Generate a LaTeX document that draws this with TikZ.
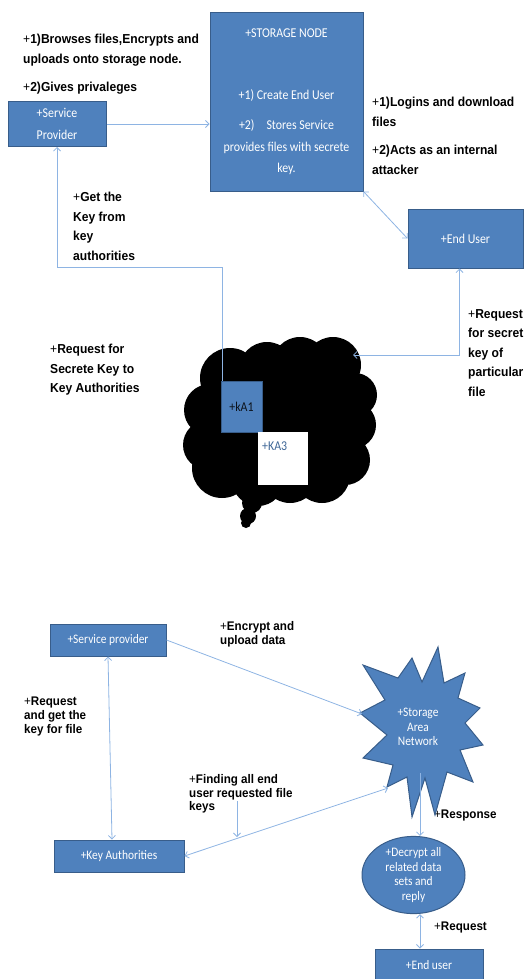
\documentclass[tikz,border=0pt]{standalone}
\usepackage{fontspec}
\setmainfont[FakeStretch=0.93]{Liberation Sans}
\newfontfamily\boxfont[FakeStretch=0.88]{Carlito}
\usetikzlibrary{shapes.geometric,arrows.meta}
\definecolor{boxblue}{HTML}{4F81BD}
\definecolor{boxedge}{HTML}{385D8A}
\definecolor{linkblue}{HTML}{8EB4E3}
\tikzstyle{entity}=[
        draw=boxedge,
        fill=boxblue,
        line width=1pt,
        text=white,
        align=center
]
\tikzstyle{link}=[
        draw=linkblue,
        line width=0.8pt,
        >={Straight Barb[length=3.5pt,width=7pt]}
]
\tikzstyle{note}=[
        anchor=north west,
        inner sep=0pt,
        align=left
]
\newcommand{\pls}{\textmd{+}}
\newcommand{\bigbox}{\boxfont\fontsize{13.5}{21.5}\selectfont}
\newcommand{\smallbox}{\boxfont\fontsize{13}{14.5}\selectfont}
\newcommand{\bignote}{\bfseries\fontsize{13}{19.5}\selectfont}
\newcommand{\smallnote}{\bfseries\fontsize{12.5}{13.8}\selectfont}

\begin{document}
\begin{tikzpicture}[x=1pt,y=-1pt]
                    \useasboundingbox (0,0) rectangle (531,979);

                    % upper diagram
                    \node[note, font=\bignote] (uploadnote) at (23,34) {\pls1)Browses files,Encrypts and\\uploads onto storage node.};
                    \node[note, font=\bignote] (privnote) at (23,82) {\pls2)Gives privaleges};
                    \node[note, font=\bignote] (loginnote) at (372,97) {\pls1)Logins and download\\files};
                    \node[note, font=\bignote] (attacknote) at (372,145) {\pls2)Acts as an internal\\attacker};
                    \node[note, font=\bignote] (getkeynote) at (73,192) {\pls Get the\\Key from\\key\\authorities};
                    \node[note, font=\bignote] (reqkanote) at (50,344) {\pls Request for\\Secrete Key to\\Key Authorities};
                    \node[note, font=\bignote] (reqfilenote) at (468,309) {\pls Request\\for secret\\key of\\particular\\file};

                    \node[entity, font=\bigbox, minimum width=98pt, minimum height=45pt] (provider) at (57,124) {+Service\\Provider};
                    \node[entity, font=\bigbox, minimum width=153pt, minimum height=178pt] (storage) at (286.5,102) {+STORAGE NODE\\[40pt]+1) Create End User\\[9pt]+2)\hspace{12pt}Stores Service\\provides files with secrete\\key.};
                    \node[entity, font=\bigbox, minimum width=115pt, minimum height=59pt] (enduser) at (465.5,238.5) {+End User};

                    % cloud of key authorities
                    \fill[black] (280,420) circle (62pt);
                    \foreach \cx/\cy/\r in {230/378/30, 267/370/28, 300/365/28, 333/365/28, 355/395/22, 352/425/24,
                                            345/460/25, 322/475/28, 290/475/28, 258/480/26, 222/468/30, 210/410/26, 208/445/25} {
                        \fill[black] (\cx,\cy) circle (\r pt);
                    }
                    \fill[black] (252,503) circle (10pt);
                    \fill[black] (248,516) circle (8pt);
                    \fill[black] (246,523) circle (5pt);

                    \node[entity, font=\bigbox, text=black!85!boxblue, line width=0.6pt, minimum width=41pt, minimum height=51pt] (ka1) at (241.5,406.5) {+kA1};
                    \node[fill=white, minimum width=50pt, minimum height=53pt] (ka3) at (283,458.5) {};
                    \node[anchor=west, inner sep=0pt, text=boxblue!80!black, font=\bigbox] (ka3text) at (262,446) {+KA3};

                    \coordinate (keyturn) at (222,267);
                    \coordinate (cloudin) at (353,355);

                    \draw[link,->] (provider.east) -- (storage.west |- provider.east);
                    \draw[link,<->] (storage.south east) -- (enduser.west);
                    \draw[link,<->] ([xshift=-6pt]enduser.south) |- (cloudin);
                    \draw[link,<-] (provider.south) |- (keyturn) -- (keyturn |- ka1.north);

                    % lower diagram
                    \node[note, font=\smallnote] (encnote) at (220,621) {\pls Encrypt and\\upload data};
                    \node[note, font=\smallnote] (reqgetnote) at (24,697) {\pls Request\\and get the\\key for file};
                    \node[note, font=\smallnote] (findnote) at (189,774) {\pls Finding all end\\user requested file\\keys};
                    \node[note, font=\smallnote] (respnote) at (434,810) {\pls Response};
                    \node[note, font=\smallnote] (reqnote) at (434,922) {\pls Request};

                    \node[entity, font=\smallbox, minimum width=116pt, minimum height=32pt] (provider2) at (108,640) {+Service provider};
                    \node[entity, font=\smallbox, minimum width=130pt, minimum height=32pt] (keyauth) at (119,856) {+Key Authorities};
                    \node[entity, font=\smallbox, ellipse, inner sep=0pt, minimum width=103pt, minimum height=76pt] (decrypt) at (413.5,875) {+Decrypt all\\related data\\sets and\\reply};
                    \node[entity, font=\smallbox, minimum width=108pt, minimum height=32pt] (enduser2) at (429,965) {+End user};

                    \draw[draw=boxedge, fill=boxblue, line width=1pt] (438,647) -- (444,683) -- (465,673) -- (458,698) -- (480,708) -- (465,723)
                        -- (483,745) -- (460,750) -- (473,782) -- (447,772) -- (435,815) -- (425,778) -- (412,817) -- (407,777)
                        -- (387,787) -- (393,765) -- (363,758) -- (387,735) -- (360,713) -- (385,700) -- (363,665) -- (398,678)
                        -- (412,658) -- (422,682) -- cycle;
                    \node[text=white, align=center, font=\smallbox] (san) at (418,727) {+Storage\\Area\\Network};

                    \coordinate (sanleft) at (362,714);
                    \coordinate (sanlow) at (388,788);
                    \coordinate (sanbottom) at (420,773);
                    \coordinate (findfrom) at (237,801);
                    \coordinate (findtip) at (237,837);

                    \draw[link,->] (provider2.east) -- (sanleft);
                    \draw[link,<->] (provider2.south) -- ([xshift=-7pt]keyauth.north);
                    \draw[link,<->] (keyauth.east) -- (sanlow);
                    \draw[link,->] (findfrom) -- (findtip);
                    \draw[link,->] (sanbottom) -- (sanbottom |- decrypt.north);
                    \draw[link,<->] (sanbottom |- decrypt.south) -- (sanbottom |- enduser2.north);
                \end{tikzpicture}
\end{document}
